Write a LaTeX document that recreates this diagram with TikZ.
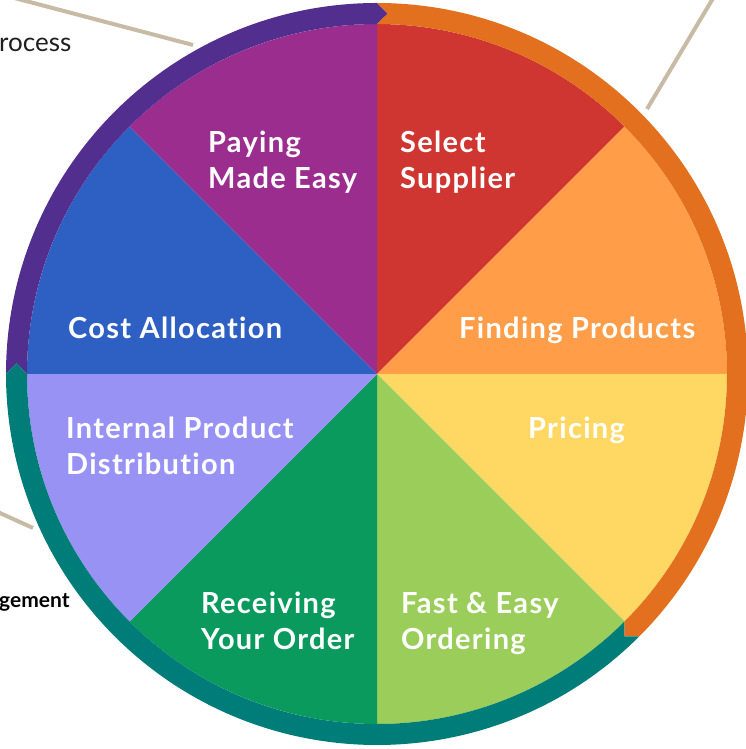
\documentclass[tikz,border=0pt]{standalone}
\usepackage{fontspec}
\setsansfont{Lato}
\newfontfamily\wheelfont{Lato}[LetterSpace=4.5,Ligatures=NoCommon]
\usetikzlibrary{positioning,calc}
\definecolor{selc}{RGB}{207,54,49}
\definecolor{findc}{RGB}{255,157,72}
\definecolor{pricec}{RGB}{255,216,100}
\definecolor{fastc}{RGB}{154,205,90}
\definecolor{recvc}{RGB}{10,154,94}
\definecolor{distc}{RGB}{152,146,245}
\definecolor{costc}{RGB}{46,96,196}
\definecolor{payc}{RGB}{155,45,143}
\definecolor{ringpur}{RGB}{82,46,142}
\definecolor{ringora}{RGB}{227,112,31}
\definecolor{ringteal}{RGB}{0,125,120}
\definecolor{leadc}{RGB}{200,187,165}
\tikzset{
  lbl/.style={font=\wheelfont\bfseries\fontsize{29}{35.5}\selectfont,text=white,
              align=left,inner sep=0pt,anchor=base west},
  lead/.style={line width=4pt,leadc},
  side/.style={font=\sffamily\fontsize{26}{30}\selectfont,text=black!88,
               inner sep=0pt,anchor=base west},
  sidebf/.style={side,font=\sffamily\bfseries\fontsize{21}{24}\selectfont,text=black},
}

\begin{document}
\begin{tikzpicture}[x=1pt,y=1pt]
  \useasboundingbox (0,0) rectangle (746,749);
  \coordinate (c) at (377,375);
  % leader lines from the neighbouring panels
  \coordinate (tlA) at (3,754);   \coordinate (tlB) at (193,704);
  \coordinate (trA) at (715,754); \coordinate (trB) at (647,640);
  \coordinate (blA) at (-10,240.5); \coordinate (blB) at (33,221);
  \draw[lead] (tlA) -- (tlB);
  \draw[lead] (trA) -- (trB);
  \draw[lead] (blA) -- (blB);
  \node[side] (proc) at (-1,697) {rocess};
  \node[sidebf] (mgmt) at (-1,141) {gement};
  \begin{scope}[shift={(c)}]
    % wedges
    \foreach \a/\col in {90/selc,45/findc,0/pricec,-45/fastc,-90/recvc,
                         -135/distc,-180/costc,-225/payc}
      \fill[\col] (0,0) -- (\a:350) arc[start angle=\a,end angle=\a-45,radius=350] -- cycle;
    % outer ring: three arrows
    \fill[ringpur] (180:371) arc[start angle=180,end angle=90,radius=371]
      -- (88.3:360.5) -- (90:350) arc[start angle=90,end angle=180,radius=350]
      -- (178.3:360.5) -- cycle;
    \fill[ringora] (90:371) arc[start angle=90,end angle=-45,radius=371]
      -- (-46.7:360.5) -- (-45:350) arc[start angle=-45,end angle=90,radius=350]
      -- (88.3:360.5) -- cycle;
    \fill[ringteal] (-45:371) arc[start angle=-45,end angle=-180,radius=371]
      -- (-181.7:360.5) -- (-180:350) arc[start angle=-180,end angle=-45,radius=350]
      -- (-46.7:360.5) -- cycle;
  \end{scope}
  % labels (base = last line)
  \node[lbl] (pay)   at (208,560.5) {Paying\\Made Easy};
  \node[lbl] (sel)   at (400,560.5) {Select\\Supplier};
  \node[lbl] (find)  at (459,410)   {Finding Products};
  \node[lbl] (cost)  at (68,410)    {Cost Allocation};
  \node[lbl] (price) at (528,310)   {Pricing};
  \node[lbl] (dist)  at (66,274.5)  {Internal Product\\Distribution};
  \node[lbl] (recv)  at (201,99.5)  {Receiving\\Your Order};
  \node[lbl] (fast)  at (401,99.5)  {Fast \& Easy\\Ordering};
\end{tikzpicture}
\end{document}
